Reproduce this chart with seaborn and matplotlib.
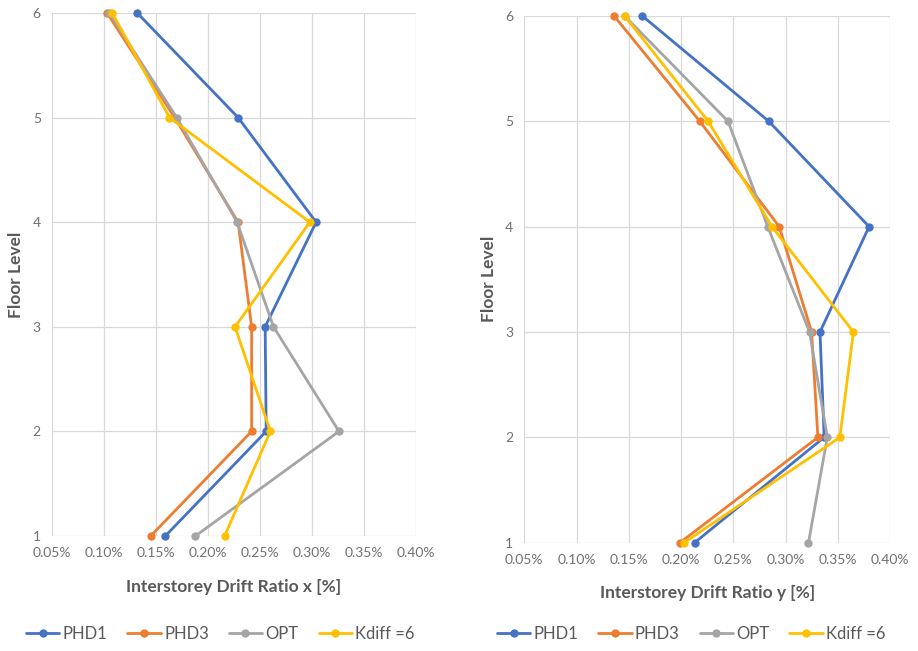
import numpy as np
import pandas as pd
import matplotlib
matplotlib.use("Agg")
import matplotlib.pyplot as plt
import seaborn as sns
from matplotlib.ticker import FuncFormatter

# ----------------------------
# data (drift ratio in %, per floor)
# ----------------------------
floors = [1, 2, 3, 4, 5, 6]
series = ["PHD1", "PHD3", "OPT", "Kdiff =6"]

drift_x_phd1 = [0.159, 0.256, 0.255, 0.304, 0.229, 0.132]
drift_x_phd3 = [0.145, 0.242, 0.242, 0.229, 0.168, 0.103]
drift_x_opt = [0.188, 0.326, 0.263, 0.228, 0.170, 0.105]
drift_x_kdiff = [0.216, 0.260, 0.226, 0.298, 0.163, 0.108]

drift_y_phd1 = [0.213, 0.337, 0.333, 0.380, 0.284, 0.163]
drift_y_phd3 = [0.199, 0.331, 0.325, 0.294, 0.218, 0.136]
drift_y_opt = [0.322, 0.340, 0.323, 0.283, 0.245, 0.146]
drift_y_kdiff = [0.203, 0.352, 0.365, 0.287, 0.226, 0.146]

colors = ["#4472C4", "#ED7D31", "#A5A5A5", "#FFC000"]
x_ticks = [0.05, 0.10, 0.15, 0.20, 0.25, 0.30, 0.35, 0.40]


def long_df(vals):
    rows = []
    for name, v in zip(series, vals):
        for f, d in zip(floors, v):
            rows.append({"series": name, "floor": f, "drift": d})
    return pd.DataFrame(rows)


df_x = long_df([drift_x_phd1, drift_x_phd3, drift_x_opt, drift_x_kdiff])
df_y = long_df([drift_y_phd1, drift_y_phd3, drift_y_opt, drift_y_kdiff])

sns.set_theme(style="white")
plt.rcParams["font.family"] = ["Lato", "DejaVu Sans"]
text_col = "#595959"
tick_col = "#707070"

fig = plt.figure(figsize=(9.18, 6.51), dpi=100)
ax1 = fig.add_axes([0.0566, 0.1767, 0.3965, 0.8034])
ax2 = fig.add_axes([0.5711, 0.1664, 0.3984, 0.8091])

for ax, df, xlab, leg_x in [(ax1, df_x, "Interstorey Drift Ratio x [%]", 0.240),
                           (ax2, df_y, "Interstorey Drift Ratio y [%]", 0.753)]:
    sns.lineplot(data=df, x="drift", y="floor", hue="series", hue_order=series,
                 palette=colors, orient="y", sort=False, marker="o",
                 markersize=6, markeredgewidth=0, linewidth=2,
                 ax=ax, legend=False)
    for ln in ax.lines:
        ln.set_clip_on(False)
    ax.set_xlim(0.05, 0.40)
    ax.set_ylim(1, 6)
    ax.set_xticks(x_ticks)
    ax.set_yticks(floors)
    ax.xaxis.set_major_formatter(FuncFormatter(lambda v, p: f"{v:.2f}%"))
    ax.grid(True, color="#D9D9D9", linewidth=0.9)
    ax.set_axisbelow(True)
    for s in ax.spines.values():
        s.set_visible(False)
    ax.tick_params(axis="both", length=0, labelsize=10, colors=tick_col, pad=8)
    ax.set_xlabel(xlab, fontsize=12.5, fontweight="bold", color=text_col, labelpad=14)
    ax.set_ylabel("Floor Level", fontsize=12.5, fontweight="bold", color=text_col, labelpad=6)

    handles = ax.lines[:4]
    fig.legend(handles, series, loc="center", bbox_to_anchor=(leg_x, 0.026),
               ncol=4, frameon=False, fontsize=12, labelcolor=text_col,
               handlelength=2.0, handletextpad=0.2, columnspacing=1.2)

fig.savefig("out.png", dpi=100)
